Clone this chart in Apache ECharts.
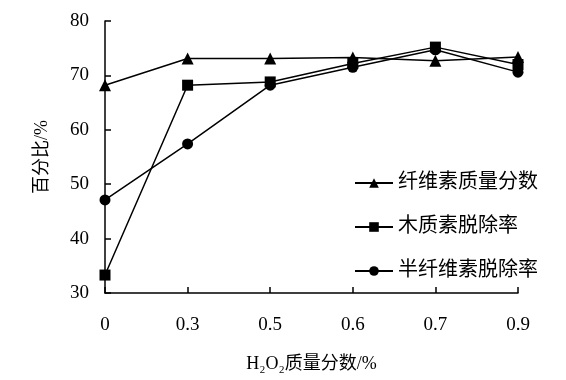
<!DOCTYPE html>
<html><head><meta charset="utf-8">
<script src="https://cdn.jsdelivr.net/npm/echarts@6/dist/echarts.min.js"></script>
<style>html,body{margin:0;padding:0;background:#fff}#c{width:566px;height:380px}</style>
</head><body><div id="c"></div>
<script>
var categories = ['0', '0.3', '0.5', '0.6', '0.7', '0.9'];
var cellulose = [68.2, 73.1, 73.1, 73.3, 72.7, 73.4];
var lignin = [33.3, 68.2, 68.8, 72.2, 75.2, 72.0];
var hemicellulose = [47.1, 57.4, 68.2, 71.5, 74.7, 70.6];
var seriesNames = ['纤维素质量分数', '木质素脱除率', '半纤维素脱除率'];
var yTicks = {min: 30, max: 80, interval: 10};

var FONT = '"Liberation Serif", "Noto Sans CJK SC", serif';
var chart = echarts.init(document.getElementById('c'), null, {renderer: 'canvas'});
function mk(name, data, sym, size) {
  return {name: name, type: 'line', data: data, symbol: sym, symbolSize: size,
    lineStyle: {color: '#000', width: 1.5}, itemStyle: {color: '#000'}, animation: false};
}
chart.setOption({
  animation: false,
  backgroundColor: '#fff',
  grid: {left: 105, right: 48, top: 21, bottom: 87},
  legend: {
    orient: 'vertical', left: 349, top: 168, itemWidth: 38, itemHeight: 12, itemGap: 24,
    textStyle: {fontFamily: FONT, fontSize: 20, color: '#000'},
    data: seriesNames
  },
  xAxis: {
    type: 'category', data: categories, boundaryGap: false,
    name: 'H\u2082O\u2082质量分数/%', nameLocation: 'middle', nameGap: 62,
    nameTextStyle: {fontFamily: FONT, fontSize: 18, color: '#000'},
    axisLine: {lineStyle: {color: '#000', width: 1.5}},
    axisTick: {inside: true, length: 6, lineStyle: {color: '#000', width: 1.5}, alignWithLabel: true},
    axisLabel: {fontFamily: FONT, fontSize: 19, color: '#000', margin: 23},
    splitLine: {show: false}
  },
  yAxis: {
    type: 'value', min: yTicks.min, max: yTicks.max, interval: yTicks.interval,
    name: '百分比/%', nameLocation: 'middle', nameGap: 54,
    nameTextStyle: {fontFamily: FONT, fontSize: 18, color: '#000'},
    axisLine: {show: true, lineStyle: {color: '#000', width: 1.5}},
    axisTick: {show: true, inside: true, length: 6, lineStyle: {color: '#000', width: 1.5}},
    axisLabel: {fontFamily: FONT, fontSize: 19, color: '#000', margin: 16},
    splitLine: {show: false}
  },
  series: [
    mk(seriesNames[0], cellulose, 'triangle', 12),
    mk(seriesNames[1], lignin, 'rect', 11),
    mk(seriesNames[2], hemicellulose, 'circle', 11)
  ]
});
</script></body></html>
